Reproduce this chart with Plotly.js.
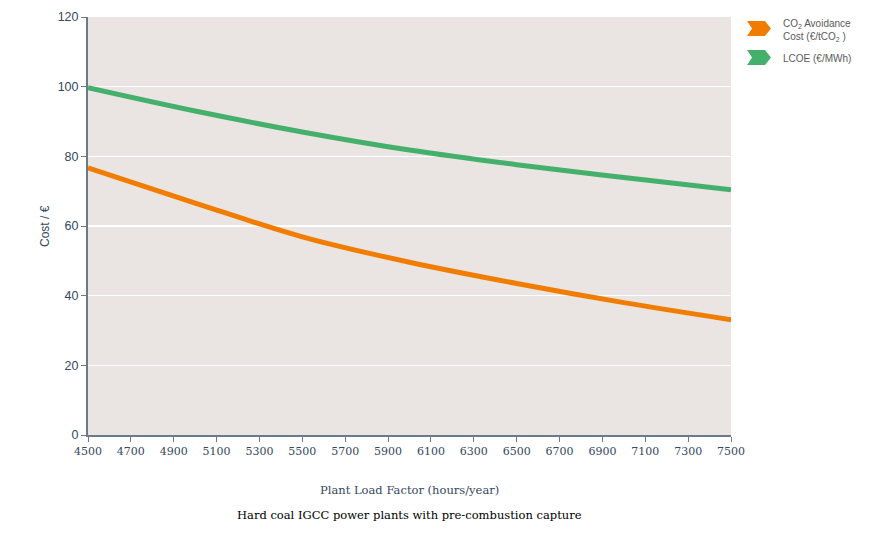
<!DOCTYPE html>
<html>
<head>
<meta charset="utf-8">
<script src="https://cdn.plot.ly/plotly-3.0.1.min.js"></script>
<style>
  body { margin: 0; background: #fff; }
  #chart { width: 884px; height: 545px; }
</style>
</head>
<body>
<div id="chart"></div>
<script>
// Plant load factor (hours/year)
var loadHours = [4500, 5000, 5500, 6000, 6500, 7000, 7500];
// CO2 avoidance cost (EUR/tCO2)
var avoidanceCost = [76.7, 66.6, 56.9, 49.6, 43.5, 38.0, 33.1];
// LCOE (EUR/MWh)
var lcoe = [99.7, 93.0, 87.0, 81.8, 77.6, 73.9, 70.4];

var seriesNames = ['CO<sub>2</sub> Avoidance<br>Cost (€/tCO<sub>2</sub> )', 'LCOE (€/MWh)'];
var seriesColors = ['#f07d00', '#45b06c'];

var W = 884, H = 545;
var M = { l: 88, r: 153, t: 17, b: 110 };
var plotW = W - M.l - M.r, plotH = H - M.t - M.b;

// pixel -> paper helpers for the hand made legend
function px(x) { return (x - M.l) / plotW; }
function py(y) { return (H - M.b - y) / plotH; }

function chevron(x, y, color) {
  // x,y = top-left corner in pixels
  var pts = [[x, y], [x + 18, y], [x + 24, y + 7.5], [x + 18, y + 15],
             [x, y + 15], [x + 5, y + 7.5]];
  var d = pts.map(function(p, i) {
    return (i ? 'L' : 'M') + px(p[0]).toFixed(4) + ',' + py(p[1]).toFixed(4);
  }).join(' ') + ' Z';
  return { type: 'path', xref: 'paper', yref: 'paper', path: d,
           fillcolor: color, line: { width: 0 } };
}

var traces = [avoidanceCost, lcoe].map(function(vals, i) {
  return {
    x: loadHours, y: vals, type: 'scatter', mode: 'lines',
    line: { color: seriesColors[i], width: 5, shape: 'spline' },
    name: seriesNames[i], showlegend: false, hoverinfo: 'skip'
  };
});

var axisColor = '#6b7a88';
var textColor = '#34485e';

var layout = {
  width: W, height: H,
  margin: M,
  paper_bgcolor: '#ffffff',
  plot_bgcolor: '#eae5e2',
  showlegend: false,
  xaxis: {
    range: [4500, 7500], tick0: 4500, dtick: 200,
    showgrid: false, zeroline: false,
    showline: true, linecolor: axisColor, linewidth: 2,
    ticks: 'outside', ticklen: 5, tickcolor: axisColor, tickwidth: 1,
    tickfont: { family: 'DejaVu Serif', size: 11, color: textColor },
    fixedrange: true
  },
  yaxis: {
    range: [0, 120], dtick: 20,
    showgrid: true, gridcolor: '#ffffff', gridwidth: 1.5,
    zeroline: false,
    showline: true, linecolor: axisColor, linewidth: 2,
    ticks: 'outside', ticklen: 5, tickcolor: axisColor, tickwidth: 1,
    tickfont: { family: 'Liberation Sans', size: 12.5, color: textColor },
    fixedrange: true
  },
  shapes: [
    chevron(747, 21, seriesColors[0]),
    chevron(747, 50, seriesColors[1])
  ],
  annotations: [
    { xref: 'paper', yref: 'paper', x: px(45), y: py(226), text: 'Cost / €',
      textangle: -90, showarrow: false, xanchor: 'center', yanchor: 'middle',
      font: { family: 'Liberation Sans', size: 12, color: textColor } },
    { xref: 'paper', yref: 'paper', x: 0.5, y: py(490), text: 'Plant Load Factor (hours/year)',
      showarrow: false, xanchor: 'center', yanchor: 'middle',
      font: { family: 'DejaVu Serif', size: 11.5, color: textColor } },
    { xref: 'paper', yref: 'paper', x: 0.5, y: py(515),
      text: 'Hard coal IGCC power plants with pre-combustion capture',
      showarrow: false, xanchor: 'center', yanchor: 'middle',
      font: { family: 'DejaVu Serif', size: 11.5, color: '#000000' } },
    { xref: 'paper', yref: 'paper', x: px(781), y: py(30.5), text: seriesNames[0],
      showarrow: false, xanchor: 'left', yanchor: 'middle', align: 'left',
      font: { family: 'Liberation Sans', size: 10, color: '#5a5a5a' } },
    { xref: 'paper', yref: 'paper', x: px(781), y: py(58.5), text: seriesNames[1],
      showarrow: false, xanchor: 'left', yanchor: 'middle', align: 'left',
      font: { family: 'Liberation Sans', size: 10, color: '#5a5a5a' } }
  ]
};

Plotly.newPlot('chart', traces, layout, { displayModeBar: false, staticPlot: true });
</script>
</body>
</html>
